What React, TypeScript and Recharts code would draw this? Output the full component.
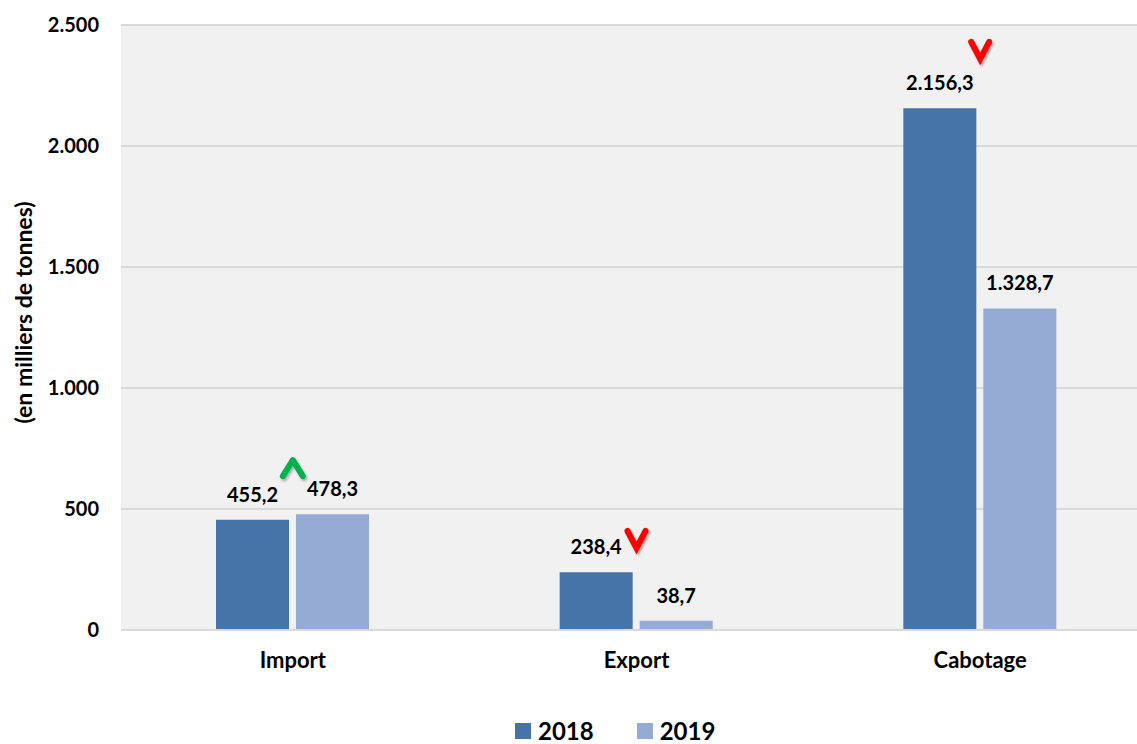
import { Bar, CartesianGrid, ComposedChart, LabelList, Legend, Scatter, XAxis, YAxis, Label } from "recharts";

const categories = ["Import", "Export", "Cabotage"];
const values2018 = [455.2, 238.4, 2156.3];
const values2019 = [478.3, 38.7, 1328.7];
// evolution arrows drawn above each group (level in data units)
const trend = ["up", "down", "down"];
const arrowLevel = [669, 376, 2397];
const yTicks = [0, 500, 1000, 1500, 2000, 2500];

const data = categories.map((name, i) => ({
  name,
  y2018: values2018[i],
  y2019: values2019[i],
  arrow: arrowLevel[i],
  trend: trend[i],
}));

const font = "Lato, 'Open Sans', sans-serif";
const c2018 = "#4673A8";
const c2019 = "#95ABD3";
const grid = "#D9D9D9";

const thousands = (n: number) => String(n).replace(/\B(?=(\d{3})+(?!\d))/g, ".");
const fmtTick = (v: number) => thousands(v);
const fmtValue = (v: number) => {
  const [int, dec] = v.toFixed(1).split(".");
  return `${thousands(Number(int))},${dec}`;
};

function Arrow(props: any) {
  const { cx, cy, payload, index } = props;
  if (cx == null || cy == null) return null;
  const up = payload.trend === "up";
  const id = `shadow-${index}`;
  const pts = up ? "-10,8 0,-8 10,8" : "-9,-8 0,9 9,-8";
  return (
    <g transform={`translate(${cx},${cy})`}>
      <defs>
        <filter id={id} x="-50%" y="-50%" width="200%" height="200%">
          <feDropShadow dx="1.5" dy="2" stdDeviation="1.2" floodColor="#000" floodOpacity="0.3" />
        </filter>
      </defs>
      <polyline
        points={pts}
        fill="none"
        stroke={up ? "#00B050" : "#FF0000"}
        strokeWidth={6}
        strokeLinecap="round"
        strokeLinejoin={up ? "round" : "miter"}
        filter={`url(#${id})`}
      />
    </g>
  );
}

function YTitle(props: any) {
  const { viewBox } = props;
  const x = viewBox.x + 23;
  const y = viewBox.y + viewBox.height / 2 - 15;
  return (
    <text
      x={x}
      y={y}
      transform={`rotate(-90, ${x}, ${y})`}
      textAnchor="middle"
      dominantBaseline="central"
      style={{ fontFamily: font, fontWeight: 700, fontSize: 23, fill: "#000" }}
    >
      (en milliers de tonnes)
    </text>
  );
}

function LegendBox(props: any) {
  const items = (props.payload || []).filter((p: any) => p.type !== "none");
  return (
    <div style={{ display: "flex", alignItems: "center", height: 26, paddingLeft: 515, fontFamily: font }}>
      {items.map((p: any, i: number) => (
        <div key={i} style={{ display: "flex", alignItems: "center", marginRight: 43 }}>
          <span style={{ width: 16, height: 16, background: p.color, marginRight: 7, display: "inline-block" }} />
          <span style={{ fontSize: 24, fontWeight: 700, color: "#000", lineHeight: "26px" }}>{p.value}</span>
        </div>
      ))}
    </div>
  );
}

const labelStyle = { fontFamily: font, fontWeight: 700, fontSize: 20, fill: "#000" };

export default function App() {
  return (
    <div style={{ position: "fixed", left: 0, top: 0, width: 1137, height: 744, overflow: "hidden", background: "#fff" }}>
      <ComposedChart
        width={1160}
        height={744}
        data={data}
        margin={{ top: 25, right: 8, bottom: 0, left: 0 }}
        barSize={73}
        barGap={7}
      >
        <CartesianGrid vertical={false} stroke={grid} strokeWidth={2} fill="#F1F1F1" />
        <XAxis
          dataKey="name"
          height={88}
          tickSize={0}
          tickMargin={22}
          axisLine={{ stroke: grid, strokeWidth: 2 }}
          tickLine={false}
          tick={{ ...labelStyle, fontSize: 22 }}
        />
        <YAxis
          width={121}
          domain={[0, 2500]}
          ticks={yTicks}
          tickFormatter={fmtTick}
          tickSize={0}
          tickMargin={22}
          axisLine={false}
          tickLine={false}
          tick={{ ...labelStyle }}
        >
          <Label content={<YTitle />} />
        </YAxis>
        <Legend verticalAlign="bottom" content={<LegendBox />} />
        <Bar dataKey="y2018" name="2018" fill={c2018} isAnimationActive={false}>
          <LabelList dataKey="y2018" position="top" offset={18} formatter={(v: any) => fmtValue(Number(v))} style={labelStyle} />
        </Bar>
        <Bar dataKey="y2019" name="2019" fill={c2019} isAnimationActive={false}>
          <LabelList dataKey="y2019" position="top" offset={18} formatter={(v: any) => fmtValue(Number(v))} style={labelStyle} />
        </Bar>
        <Scatter dataKey="arrow" legendType="none" shape={<Arrow />} isAnimationActive={false} />
      </ComposedChart>
    </div>
  );
}
